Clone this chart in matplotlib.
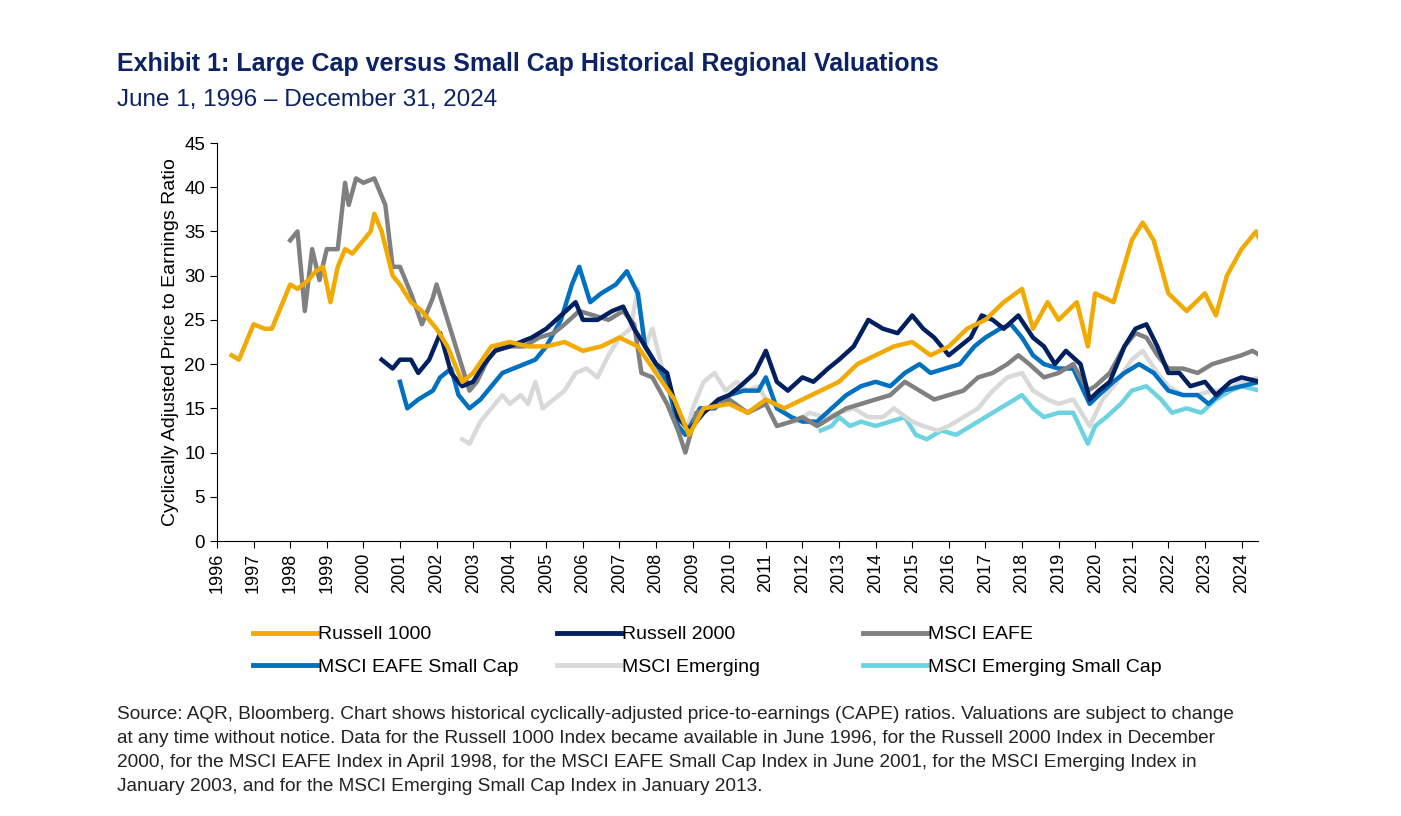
import matplotlib.pyplot as plt
from matplotlib.lines import Line2D

plt.rcParams['font.family'] = ['Liberation Sans', 'DejaVu Sans']

# Russell 1000
r1000_x = [1996.4, 1996.6, 1996.8, 1997.0, 1997.3, 1997.5, 1997.8, 1998.0, 1998.2, 1998.5, 1998.7, 1998.9,
           1999.1, 1999.3, 1999.5, 1999.7, 2000.0, 2000.2, 2000.3, 2000.5, 2000.8, 2001.0, 2001.3, 2001.6,
           2002.0, 2002.3, 2002.7, 2003.0, 2003.5, 2004.0, 2004.5, 2005.0, 2005.5, 2006.0, 2006.5, 2007.0,
           2007.5, 2008.0, 2008.5, 2008.9, 2009.3, 2010.0, 2010.5, 2011.0, 2011.5, 2012.0, 2012.5, 2013.0,
           2013.5, 2014.0, 2014.5, 2015.0, 2015.5, 2016.0, 2016.5, 2017.0, 2017.5, 2018.0, 2018.3, 2018.7,
           2019.0, 2019.5, 2019.8, 2020.0, 2020.5, 2021.0, 2021.3, 2021.6, 2022.0, 2022.5, 2023.0, 2023.3,
           2023.6, 2024.0, 2024.4, 2024.5]
r1000_y = [21, 20.5, 22.5, 24.5, 24, 24, 27, 29, 28.5, 29.5, 30.5, 31,
           27, 31, 33, 32.5, 34, 35, 37, 35, 30, 29, 27, 26,
           24, 22, 18, 19, 22, 22.5, 22, 22, 22.5, 21.5, 22, 23,
           22, 19, 16, 12, 15, 15.5, 14.5, 16, 15, 16, 17, 18,
           20, 21, 22, 22.5, 21, 22, 24, 25, 27, 28.5, 24, 27,
           25, 27, 22, 28, 27, 34, 36, 34, 28, 26, 28, 25.5,
           30, 33, 35, 34]

# Russell 2000
r2000_x = [2000.5, 2000.8, 2001.0, 2001.3, 2001.5, 2001.8, 2002.1, 2002.4, 2002.7, 2003.0, 2003.3, 2003.6,
           2004.0, 2004.3, 2004.6, 2005.0, 2005.4, 2005.8, 2006.0, 2006.4, 2006.8, 2007.1, 2007.4, 2007.7,
           2008.0, 2008.3, 2008.6, 2008.9, 2009.3, 2009.7, 2010.0, 2010.3, 2010.7, 2011.0, 2011.3, 2011.6,
           2012.0, 2012.3, 2012.7, 2013.0, 2013.4, 2013.8, 2014.2, 2014.6, 2015.0, 2015.3, 2015.6, 2016.0,
           2016.3, 2016.6, 2016.9, 2017.2, 2017.5, 2017.9, 2018.3, 2018.6, 2018.9, 2019.2, 2019.6, 2019.85,
           2020.1, 2020.4, 2020.8, 2021.1, 2021.4, 2021.7, 2022.0, 2022.3, 2022.6, 2023.0, 2023.3, 2023.7,
           2024.0, 2024.5]
r2000_y = [20.5, 19.5, 20.5, 20.5, 19, 20.5, 23.5, 19, 17.5, 18, 20, 21.5,
           22, 22.5, 23, 24, 25.5, 27, 25, 25, 26, 26.5, 24, 22,
           20, 19, 14, 12.5, 14.5, 16, 16.5, 17.5, 19, 21.5, 18, 17,
           18.5, 18, 19.5, 20.5, 22, 25, 24, 23.5, 25.5, 24, 23, 21,
           22, 23, 25.5, 25, 24, 25.5, 23, 22, 20, 21.5, 20, 16,
           17, 18, 22, 24, 24.5, 22, 19, 19, 17.5, 18, 16.5, 18,
           18.5, 18]

# MSCI EAFE
eafe_x = [1998.0, 1998.2, 1998.4, 1998.6, 1998.8, 1999.0, 1999.3, 1999.5, 1999.6, 1999.8, 2000.0, 2000.3,
          2000.6, 2000.8, 2001.0, 2001.3, 2001.6, 2001.9, 2002.0, 2002.3, 2002.6, 2002.9, 2003.1, 2003.4,
          2003.7, 2004.0, 2004.4, 2004.8, 2005.2, 2005.5, 2005.9, 2006.3, 2006.7, 2007.1, 2007.4, 2007.6,
          2007.9, 2008.3, 2008.6, 2008.8, 2009.1, 2009.5, 2010.0, 2010.5, 2011.0, 2011.3, 2011.7, 2012.0,
          2012.4, 2012.8, 2013.2, 2013.6, 2014.0, 2014.4, 2014.8, 2015.2, 2015.6, 2016.0, 2016.4, 2016.8,
          2017.2, 2017.6, 2017.9, 2018.2, 2018.6, 2019.0, 2019.4, 2019.8, 2020.0, 2020.4, 2020.8, 2021.1,
          2021.4, 2021.7, 2022.0, 2022.4, 2022.8, 2023.2, 2023.6, 2024.0, 2024.3, 2024.5]
eafe_y = [34, 35, 26, 33, 29.5, 33, 33, 40.5, 38, 41, 40.5, 41,
          38, 31, 31, 28, 24.5, 27.5, 29, 25, 21, 17, 18, 20.5,
          22, 22, 22, 23, 23.5, 24.5, 26, 25.5, 25, 26, 24.5, 19,
          18.5, 15.5, 12.5, 10, 14.5, 15, 16, 14.5, 15.5, 13, 13.5, 14,
          13, 14, 15, 15.5, 16, 16.5, 18, 17, 16, 16.5, 17, 18.5,
          19, 20, 21, 20, 18.5, 19, 20, 17, 17.5, 19, 22, 23.5,
          23, 21, 19.5, 19.5, 19, 20, 20.5, 21, 21.5, 21]

# MSCI EAFE Small Cap
eafesc_x = [2001.0, 2001.2, 2001.5, 2001.9, 2002.1, 2002.4, 2002.6, 2002.9, 2003.2, 2003.5, 2003.8, 2004.1,
            2004.4, 2004.7, 2005.0, 2005.4, 2005.7, 2005.9, 2006.2, 2006.5, 2006.9, 2007.2, 2007.5, 2007.7,
            2008.0, 2008.3, 2008.6, 2008.8, 2009.2, 2009.6, 2010.0, 2010.4, 2010.8, 2011.0, 2011.3, 2011.7,
            2012.0, 2012.4, 2012.8, 2013.2, 2013.6, 2014.0, 2014.4, 2014.8, 2015.2, 2015.5, 2015.9, 2016.3,
            2016.7, 2017.0, 2017.4, 2017.7, 2018.0, 2018.3, 2018.6, 2019.0, 2019.4, 2019.85, 2020.1, 2020.5,
            2020.8, 2021.2, 2021.6, 2022.0, 2022.4, 2022.8, 2023.1, 2023.5, 2024.0, 2024.5]
eafesc_y = [18, 15, 16, 17, 18.5, 19.5, 16.5, 15, 16, 17.5, 19, 19.5,
            20, 20.5, 22, 25, 29, 31, 27, 28, 29, 30.5, 28, 22,
            20, 18, 13, 12, 15, 15, 16.5, 17, 17, 18.5, 15, 14,
            13.5, 13.5, 15, 16.5, 17.5, 18, 17.5, 19, 20, 19, 19.5, 20,
            22, 23, 24, 24.5, 23, 21, 20, 19.5, 19.5, 15.5, 16.5, 18,
            19, 20, 19, 17, 16.5, 16.5, 15.5, 17, 17.5, 18]

# MSCI Emerging
em_x = [2002.7, 2002.9, 2003.2, 2003.5, 2003.8, 2004.0, 2004.3, 2004.5, 2004.7, 2004.9, 2005.2, 2005.5,
        2005.8, 2006.1, 2006.4, 2006.7, 2007.0, 2007.3, 2007.5, 2007.7, 2007.9, 2008.2, 2008.5, 2008.8,
        2009.0, 2009.3, 2009.6, 2009.9, 2010.2, 2010.5, 2010.8, 2011.0, 2011.4, 2011.8, 2012.2, 2012.6,
        2013.0, 2013.4, 2013.8, 2014.2, 2014.5, 2015.0, 2015.3, 2015.7, 2016.0, 2016.4, 2016.8, 2017.2,
        2017.6, 2018.0, 2018.3, 2018.7, 2019.0, 2019.4, 2019.85, 2020.2, 2020.6, 2021.0, 2021.3, 2021.7,
        2022.0, 2022.4, 2022.8, 2023.2, 2023.6, 2024.0, 2024.5]
em_y = [11.5, 11, 13.5, 15, 16.5, 15.5, 16.5, 15.5, 18, 15, 16, 17,
        19, 19.5, 18.5, 21, 23, 24, 28.5, 22, 24, 19, 16, 12,
        15, 18, 19, 17, 18, 17, 17.5, 16, 15, 13.5, 14.5, 14,
        14.5, 15, 14, 14, 15, 13.5, 13, 12.5, 13, 14, 15, 17,
        18.5, 19, 17, 16, 15.5, 16, 13, 16, 18, 20.5, 21.5, 19,
        17.5, 16.5, 16.5, 17, 17, 18, 18.5]

# MSCI Emerging Small Cap
emsc_x = [2012.5, 2012.8, 2013.0, 2013.3, 2013.6, 2014.0, 2014.4, 2014.8, 2015.1, 2015.4, 2015.8, 2016.2,
          2016.6, 2017.0, 2017.4, 2017.8, 2018.0, 2018.3, 2018.6, 2019.0, 2019.4, 2019.8, 2020.0, 2020.3,
          2020.7, 2021.0, 2021.4, 2021.8, 2022.1, 2022.5, 2022.9, 2023.3, 2023.7, 2024.0, 2024.5]
emsc_y = [12.5, 13, 14, 13, 13.5, 13, 13.5, 14, 12, 11.5, 12.5, 12,
          13, 14, 15, 16, 16.5, 15, 14, 14.5, 14.5, 11, 13, 14,
          15.5, 17, 17.5, 16, 14.5, 15, 14.5, 16, 17, 17.5, 17]

years = list(range(1996, 2025))

series = [
    ("Russell 1000", r1000_x, r1000_y, "#F2A900"),
    ("Russell 2000", r2000_x, r2000_y, "#002060"),
    ("MSCI EAFE", eafe_x, eafe_y, "#808080"),
    ("MSCI EAFE Small Cap", eafesc_x, eafesc_y, "#0070C0"),
    ("MSCI Emerging", em_x, em_y, "#D9D9D9"),
    ("MSCI Emerging Small Cap", emsc_x, emsc_y, "#6DD3E0"),
]

fig = plt.figure(figsize=(14.01, 8.16), dpi=100)
ax = fig.add_axes([217 / 1401, 1 - 541 / 816, (1258 - 217) / 1401, (541 - 143) / 816])

# draw back-to-front like the reference (Russell 1000 on top)
for name, x, y, c in reversed(series):
    ax.plot(x, y, color=c, lw=3.2, solid_joinstyle="round")

ax.set_xlim(1996, 2024.45)
ax.set_ylim(0, 45)
ax.set_yticks(range(0, 46, 5))
ax.set_xticks(years)
ax.set_xticklabels([str(y) for y in years], rotation=90, fontsize=13)
ax.tick_params(axis="y", labelsize=13.5, direction="out", length=5)
ax.tick_params(axis="x", direction="out", length=5)
for s in ["top", "right"]:
    ax.spines[s].set_visible(False)
ax.set_ylabel("Cyclically Adjusted Price to Earnings Ratio", fontsize=14)

# legend: three columns, two rows, each column placed by hand
col_x = [245, 549, 855]
for i, cx in enumerate(col_x):
    top, bottom = series[i], series[i + 3]
    hs = [Line2D([0], [0], color=s[3], lw=3.5) for s in (top, bottom)]
    fig.legend(hs, [top[0], bottom[0]], loc="upper left",
               bbox_to_anchor=(cx / 1401, 1 - 618 / 816), frameon=False, fontsize=14,
               handlelength=3.3, handletextpad=0.05, labelspacing=0.75, borderaxespad=0)

navy = "#0B2265"
fig.text(117 / 1401, 1 - 64 / 816, "Exhibit 1: Large Cap versus Small Cap Historical Regional Valuations",
         fontsize=18, fontweight="bold", color=navy, va="center")
fig.text(117 / 1401, 1 - 100 / 816, "June 1, 1996 – December 31, 2024",
         fontsize=17.5, color=navy, va="center")
fig.text(117 / 1401, 1 - 706 / 816,
         "Source: AQR, Bloomberg. Chart shows historical cyclically-adjusted price-to-earnings (CAPE) ratios. Valuations are subject to change\n"
         "at any time without notice. Data for the Russell 1000 Index became available in June 1996, for the Russell 2000 Index in December\n"
         "2000, for the MSCI EAFE Index in April 1998, for the MSCI EAFE Small Cap Index in June 2001, for the MSCI Emerging Index in\n"
         "January 2003, and for the MSCI Emerging Small Cap Index in January 2013.",
         fontsize=13.7, color="#222222", va="top", linespacing=1.55)

fig.savefig("out.png", dpi=100)
